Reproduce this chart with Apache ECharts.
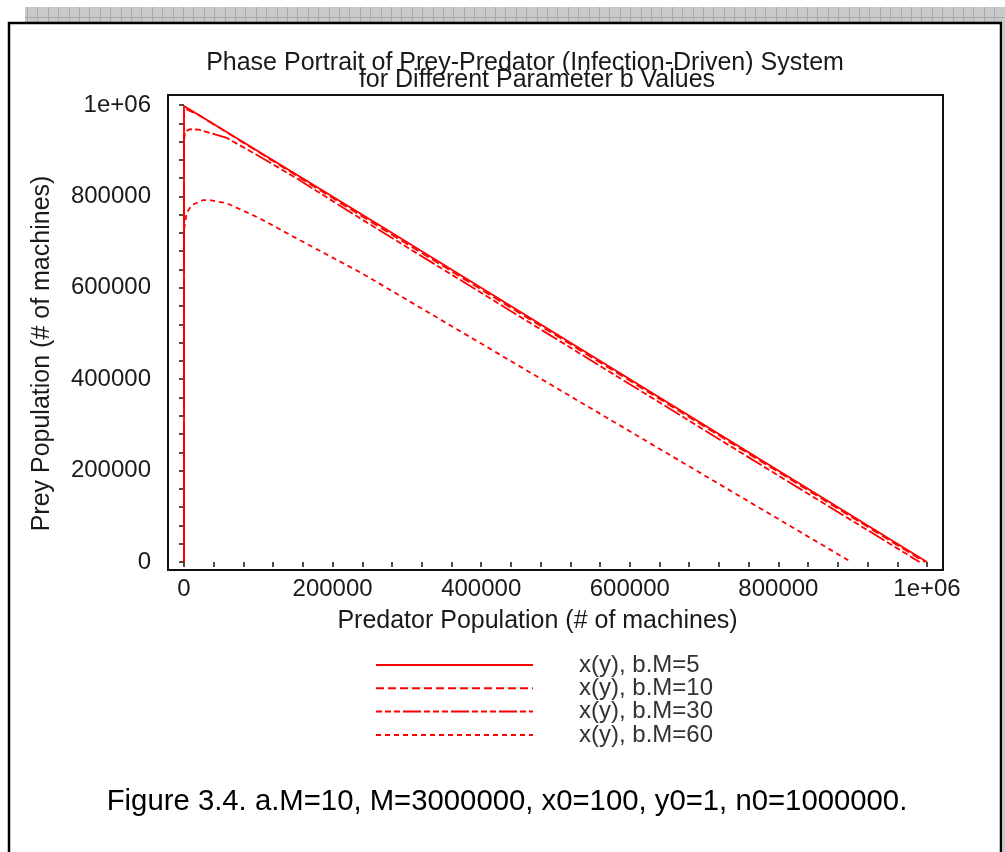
<!DOCTYPE html>
<html>
<head>
<meta charset="utf-8">
<script src="https://cdn.jsdelivr.net/npm/echarts@6/dist/echarts.min.js"></script>
<style>
html,body{margin:0;padding:0;background:#fff;}
#chart{width:1005px;height:852px;}
</style>
</head>
<body>
<div id="chart"></div>
<script>
// ---- data ----
const seriesNames = ['x(y), b.M=5', 'x(y), b.M=10', 'x(y), b.M=30', 'x(y), b.M=60'];

const predatorB5 = [1, 1, 2000, 250000, 500000, 750000, 1000000];
const preyB5     = [100, 998000, 998300, 750000, 500000, 250000, 0];

const predatorB10 = [1, 1, 500, 3000, 20000, 250000, 500000, 750000, 997000];
const preyB10     = [100, 988000, 993000, 994500, 978000, 746000, 496500, 247000, 0];

const predatorB30 = [1, 1, 1500, 8000, 20000, 57500, 100000, 150000, 237000, 400000, 600000, 800000, 990000];
const preyB30     = [100, 923000, 942000, 947000, 946000, 928000, 889000, 841000, 752000, 589000, 389000, 189000, 0];

const predatorB60 = [1, 1, 3600, 10400, 26000, 35000, 57500, 102000, 147000, 192000, 237000, 400000, 600000, 800000, 898000];
const preyB60     = [100, 726000, 764000, 781000, 792000, 792000, 785000, 752000, 712000, 673000, 634000, 478000, 286000, 94000, 0];

const xTickValues = [0, 200000, 400000, 600000, 800000, 1000000];
const xTickLabels = ['0', '200000', '400000', '600000', '800000', '1e+06'];
const yTickValues = [0, 200000, 400000, 600000, 800000, 1000000];
const yTickLabels = ['0', '200000', '400000', '600000', '800000', '1e+06'];

const titleLine1 = 'Phase Portrait of Prey-Predator (Infection-Driven) System';
const titleLine2 = 'for Different Parameter b Values';
const xAxisName = 'Predator Population (# of machines)';
const yAxisName = 'Prey Population (# of machines)';
const caption = 'Figure 3.4. a.M=10, M=3000000, x0=100, y0=1, n0=1000000.';

// ---- build ----
function zip(a, b) { return a.map((v, i) => [v, b[i]]); }
const allData = [
  zip(predatorB5, preyB5),
  zip(predatorB10, preyB10),
  zip(predatorB30, preyB30),
  zip(predatorB60, preyB60)
];
const dashTypes = ['solid', [8, 4], [6, 3, 6, 3, 6, 3, 18, 3], [5, 4]];

function labelFor(values, labels) {
  return function (v) {
    const i = values.indexOf(v);
    return i >= 0 ? labels[i] : '';
  };
}

const FONT = 'Liberation Sans, Arial, sans-serif';
const TXT = '#1a1a1a';

// decorative page band and borders
const band = [];
band.push({ type: 'rect', shape: { x: 25, y: 7, width: 980, height: 15 }, style: { fill: '#c9c9c9' }, silent: true });
band.push({ type: 'rect', shape: { x: 1003, y: 7, width: 2, height: 845 }, style: { fill: '#c9c9c9' }, silent: true });
for (let x = 27; x < 1005; x += 10.4) {
  band.push({ type: 'line', shape: { x1: Math.round(x) + 0.5, y1: 7, x2: Math.round(x) + 0.5, y2: 22 }, style: { stroke: '#a9a9a9', lineWidth: 1 }, silent: true });
}
band.push({ type: 'line', shape: { x1: 25, y1: 17.5, x2: 1005, y2: 17.5 }, style: { stroke: '#a9a9a9', lineWidth: 1 }, silent: true });
band.push({ type: 'polyline', shape: { points: [[9, 852], [9, 23], [1001, 23], [1001, 852]] }, style: { stroke: '#000', lineWidth: 2.5, fill: null }, silent: true });
// plot frame
band.push({ type: 'rect', shape: { x: 168, y: 95, width: 775, height: 475 }, style: { fill: null, stroke: '#111', lineWidth: 2 }, z: 10, silent: true });

const option = {
  animation: false,
  backgroundColor: '#fff',
  title: [
    { text: titleLine1, left: 520, top: 46, textAlign: 'center',
      textStyle: { fontFamily: FONT, fontSize: 25, fontWeight: 'normal', color: TXT } },
    { text: titleLine2, left: 532, top: 63, textAlign: 'center',
      textStyle: { fontFamily: FONT, fontSize: 25, fontWeight: 'normal', color: TXT } },
    { text: caption, left: 502, top: 782, textAlign: 'center',
      textStyle: { fontFamily: FONT, fontSize: 29.3, fontWeight: 'normal', color: '#000' } }
  ],
  grid: { left: 184, top: 105, width: 743, height: 457, containLabel: false },
  legend: {
    orient: 'vertical', left: 370, top: 648,
    itemWidth: 157, itemHeight: 14, itemGap: -0.7,
    data: seriesNames,
    selectedMode: false,
    itemStyle: { opacity: 0, borderWidth: 0 },
    textStyle: { fontFamily: FONT, fontSize: 24, color: '#333', padding: [0, 0, 0, 41] }
  },
  xAxis: {
    type: 'value', min: 0, max: 1000000, interval: 200000, offset: 8,
    name: xAxisName, nameLocation: 'middle', nameGap: 39,
    nameTextStyle: { fontFamily: FONT, fontSize: 25, color: TXT, padding: [0, 36, 0, 0] },
    axisLine: { show: false },
    axisTick: { show: true, inside: false, length: 5, lineStyle: { color: '#111', width: 1.5 } },
    minorTick: { show: true, splitNumber: 5, length: 5, lineStyle: { color: '#111', width: 1.5 } },
    splitLine: { show: false },
    axisLabel: { formatter: labelFor(xTickValues, xTickLabels), fontFamily: FONT, fontSize: 24, color: TXT, margin: 7 }
  },
  yAxis: {
    type: 'value', min: 0, max: 1000000, interval: 200000, offset: 16,
    name: yAxisName, nameLocation: 'middle', nameGap: 113, nameRotate: 90,
    nameTextStyle: { fontFamily: FONT, fontSize: 25, color: TXT, padding: [0, 40, 0, 0] },
    axisLine: { show: false },
    axisTick: { show: true, inside: false, length: 5, lineStyle: { color: '#111', width: 1.5 } },
    minorTick: { show: true, splitNumber: 5, length: 5, lineStyle: { color: '#111', width: 1.5 } },
    splitLine: { show: false },
    axisLabel: { formatter: labelFor(yTickValues, yTickLabels), fontFamily: FONT, fontSize: 24, color: TXT, margin: 17 }
  },
  graphic: band,
  series: seriesNames.map((name, i) => ({
    name: name,
    type: 'line',
    data: allData[i],
    symbol: 'none',
    showSymbol: false,
    clip: false,
    smooth: false,
    z: 3 + (3 - i),
    lineStyle: { color: '#ff0000', width: 1.8, type: dashTypes[i] },
    itemStyle: { color: '#ff0000' }
  }))
};

const chart = echarts.init(document.getElementById('chart'), null, { renderer: 'canvas' });
chart.setOption(option);
</script>
</body>
</html>
